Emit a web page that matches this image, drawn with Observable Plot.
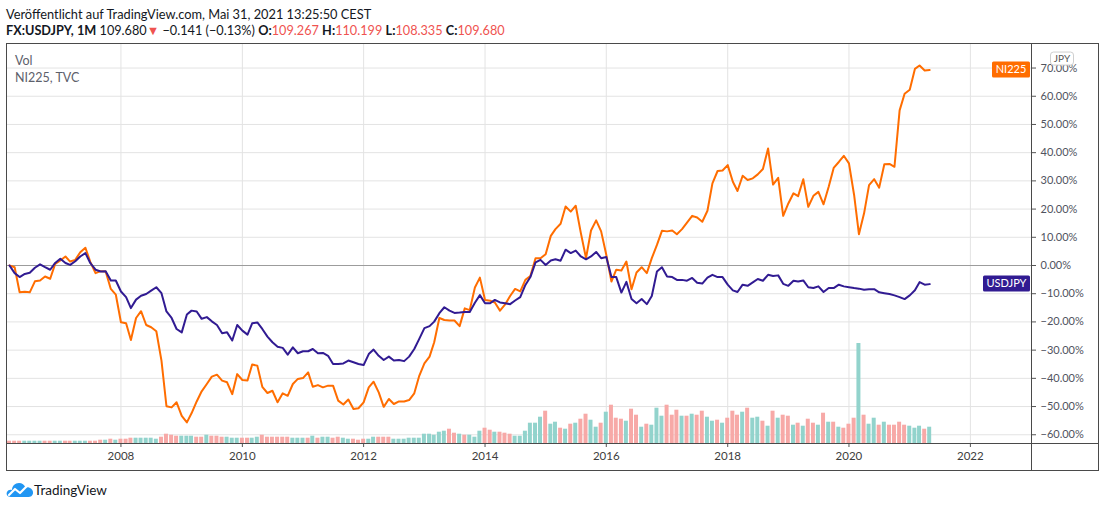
<!DOCTYPE html>
<html>
<head>
<meta charset="utf-8">
<script src="https://cdn.jsdelivr.net/npm/d3@7"></script>
<script src="https://cdn.jsdelivr.net/npm/@observablehq/plot@0.6"></script>
<style>
  html, body { margin: 0; padding: 0; background: #fff; }
  #wrap { position: relative; width: 1100px; height: 508px; overflow: hidden; font-family: Lato, "Open Sans", sans-serif; color: #131722; }
  .t { position: absolute; white-space: nowrap; line-height: 16px; }
  #h1 { left: 6px; top: 6px; font-size: 12.8px; }
  #h2 { left: 6px; top: 22px; font-size: 12.7px; }
  #h2 b { font-weight: 700; }
  .red { color: #ef5350; }
  .leg { left: 15px; font-size: 12.5px; color: #5d606b; }
  #chart { position: absolute; left: 0; top: 43px; }
  #logo { position: absolute; left: 6px; top: 481px; }
  #logotxt { left: 34px; top: 481px; font-size: 13.5px; color: #131722; line-height: 18px; }
</style>
</head>
<body>
<div id="wrap">
  <div class="t" id="h1">Veröffentlicht auf TradingView.com, Mai 31, 2021 13:25:50 CEST</div>
  <div class="t" id="h2"><b>FX:USDJPY, 1M</b> 109.680<span class="red">▼</span> −0.141 (−0.13%) <b>O:</b><span class="red">109.267</span> <b>H:</b><span class="red">110.199</span> <b>L:</b><span class="red">108.335</span> <b>C:</b><span class="red">109.680</span></div>
  <div id="chart"></div>
  <div class="t leg" style="top:53px">Vol</div>
  <div class="t leg" style="top:70px">NI225, TVC</div>
  <svg id="logo" width="28" height="17" viewBox="0 0 28 17">
    <path d="M5 16 C1 16 0 13 1 11 C2 9 4 8.5 6 9 C6 5 9 2 13 2 C16 2 18.5 4 19.5 6.5 C20.5 6 22 6 23 6.5 C26 7.5 27.5 10 27 12.5 C26.5 15 24.5 16 22.5 16 Z" fill="#2196f3"/>
    <polyline points="3,14 9,8 14,12 21,5" fill="none" stroke="#fff" stroke-width="2.2" stroke-linejoin="round" stroke-linecap="round"/>
  </svg>
  <div class="t" id="logotxt">TradingView</div>
</div>
<script>
// ---- data (monthly, starting March 2006), % change vs first bar ----
const startYear = 2006, startMonth = 2; // March 2006
const usdjpy = [0,-2.7,-4.1,-3.0,-2.6,-0.8,0.4,-0.6,-1.5,0.9,2.4,0.9,0.2,1.5,3.2,4.4,0.8,-1.5,-2.1,-2.0,
  -5.3,-5.3,-9.2,-11.2,-15.1,-12.1,-10.7,-10.1,-8.9,-7.7,-9.8,-16.3,-18.6,-22.5,-23.7,-17.4,-16.0,-16.3,-18.9,-18.3,
  -19.8,-21.1,-24.0,-23.7,-26.6,-21.1,-23.1,-24.5,-20.5,-20.2,-22.5,-25.2,-27.2,-28.8,-29.2,-31.6,-29.0,-31.1,-30.4,-30.4,
  -29.6,-31.1,-31.0,-32.0,-34.9,-34.9,-34.7,-33.7,-34.3,-34.9,-35.3,-31.4,-29.8,-32.0,-33.5,-32.3,-33.7,-33.5,-33.9,-32.3,
  -29.6,-26.0,-22.2,-21.5,-19.9,-16.9,-14.8,-16.0,-16.8,-16.7,-16.5,-16.5,-13.2,-10.5,-13.4,-13.4,-12.2,-13.1,-13.4,-13.7,
  -12.4,-11.2,-6.9,-4.1,1.1,2.0,0.2,1.8,2.2,1.7,5.6,4.4,5.3,3.2,2.2,3.2,4.8,2.6,3.0,-4.1,
  -4.1,-9.6,-5.8,-11.9,-13.4,-11.9,-13.7,-10.8,-2.1,-0.6,-3.9,-4.1,-5.1,-5.1,-5.4,-4.4,-6.1,-6.4,-4.3,-3.3,
  -4.1,-4.1,-6.8,-8.8,-9.4,-6.8,-7.2,-6.0,-4.8,-5.4,-3.3,-3.7,-3.5,-6.5,-7.2,-5.4,-5.7,-5.3,-7.7,-8.0,
  -7.4,-9.4,-8.0,-8.0,-6.8,-7.4,-7.7,-8.0,-8.2,-8.6,-8.4,-8.4,-9.5,-9.8,-10.1,-10.6,-11.2,-11.9,-10.6,-8.8,
  -5.9,-6.8,-6.6];
const ni225 = [0,-0.6,-9.5,-9.3,-9.5,-5.6,-5.3,-3.9,-4.7,0.6,1.8,3.2,1.4,2.0,4.7,6.3,1.2,-2.7,-2.0,-2.1,
  -8.3,-10.3,-20.1,-20.5,-26.4,-18.6,-16.2,-21.1,-21.9,-23.3,-33.7,-49.9,-50.3,-48.5,-53.3,-55.6,-52.4,-48.2,-44.6,-42.0,
  -39.4,-38.7,-40.8,-41.4,-45.6,-38.5,-40.6,-40.8,-35.1,-35.5,-43.0,-45.2,-44.4,-48.5,-45.3,-46.2,-42.0,-40.2,-39.9,-37.9,
  -43.0,-42.4,-43.2,-42.6,-42.6,-47.9,-49.3,-47.5,-50.9,-50.6,-48.5,-43.2,-41.2,-45.0,-50.1,-47.3,-49.1,-48.2,-48.2,-47.7,
  -45.3,-39.1,-34.7,-32.3,-27.2,-18.6,-19.3,-19.5,-19.5,-21.5,-15.2,-15.8,-7.8,-4.3,-12.2,-12.5,-13.1,-16.0,-13.9,-10.8,
  -8.3,-9.2,-5.1,-3.7,2.6,2.6,4.0,10.5,12.9,14.8,20.9,19.1,21.2,11.5,2.6,12.4,16.0,12.1,3.8,-5.7,
  -1.5,-1.8,1.4,-8.4,-2.5,-0.6,-2.7,2.6,7.3,12.3,12.1,12.4,11.1,12.9,15.2,17.6,17.0,15.5,19.4,29.1,
  33.5,33.7,35.6,29.7,26.4,31.8,30.3,30.9,32.3,34.2,41.5,28.7,31.1,17.6,22.0,25.6,24.6,30.6,20.8,24.7,
  26.1,21.7,27.9,34.6,36.7,38.9,36.2,25.0,11.1,18.5,28.5,30.6,27.6,35.9,36.0,35.0,55.0,60.9,62.3,69.7,
  70.9,69.1,69.3];
// volume (arbitrary units) and bar direction (1 = up / teal, 0 = down / red)
const volume = [23,23,23,23,23,23,23,23,23,23,23,23,23,23,23,23,23,23,33,33,
  43,33,43,43,53,53,53,53,53,43,63,93,83,73,73,73,73,63,63,83,
  73,73,63,63,53,53,53,53,53,63,83,63,63,63,63,63,53,53,53,53,
  73,53,63,63,53,63,53,43,43,33,43,43,63,63,63,63,43,43,43,53,
  53,53,93,93,83,113,123,143,103,93,83,83,63,123,153,133,113,113,103,93,
  73,73,123,203,203,263,323,193,213,153,143,193,203,243,293,233,163,203,313,383,
  253,243,223,343,283,163,193,183,353,273,383,283,333,273,273,293,283,323,263,223,
  233,203,253,323,283,313,353,253,263,223,173,323,253,283,273,183,203,173,243,203,
  183,303,213,213,163,153,193,253,1000,283,193,253,183,213,183,183,213,183,173,153,
  173,143,163];
const volUp = [0,0,0,1,1,1,1,0,0,1,1,0,0,1,1,1,0,0,0,1,
  0,1,0,0,0,1,1,1,1,1,0,0,0,0,1,1,1,0,0,1,
  0,0,0,1,1,1,0,0,1,1,0,0,0,0,0,0,1,1,1,0,
  1,0,1,1,0,0,1,1,0,0,0,1,1,0,0,0,1,1,1,1,
  1,1,1,1,1,1,1,0,0,1,0,1,1,1,0,0,1,0,0,0,
  1,1,1,1,1,1,0,1,1,0,1,0,1,0,0,1,1,0,1,0,
  0,0,1,0,0,1,0,1,1,1,0,0,0,1,0,1,0,0,1,1,
  0,1,0,0,0,1,0,1,1,0,1,0,1,0,0,1,0,1,0,0,
  1,0,1,0,1,0,0,0,1,0,1,1,0,1,0,0,0,0,1,1,
  1,0,1];
const yearTicks = [2008, 2010, 2012, 2014, 2016, 2018, 2020, 2022];
const pctTicks = [-60, -50, -40, -30, -20, -10, 0, 10, 20, 30, 40, 50, 60, 70];
const seriesNames = ["NI225", "USDJPY"];
const seriesColors = ["#ff6d00", "#311b92"];

// ---- build tables ----
const monthDate = i => new Date(Date.UTC(startYear, startMonth + i, 1));
const DAY = 86400000;
const usdRows = usdjpy.map((v, i) => ({date: monthDate(i), v}));
const niRows = ni225.map((v, i) => ({date: monthDate(i), v}));

const yMin = -63.1, yMax = 78.7;           // visible percent range
const plotH = 400;                          // px height of the price pane
const pxPerPct = plotH / (yMax - yMin);
const volPxPerUnit = 0.1;                   // volume pane: px per volume unit
const volRows = volume.map((v, i) => ({
  x1: new Date(+monthDate(i) - 12 * DAY),
  x2: new Date(+monthDate(i) + 12 * DAY),
  y1: yMin,
  y2: yMin + v * volPxPerUnit / pxPerPct,
  fill: volUp[i] ? "#92d3cc" : "#f7a9a7"
}));
const tickDates = yearTicks.map(y => new Date(Date.UTC(y, 0, 1)));
const pctFmt = d => (d < 0 ? "\u2212" : "") + Math.abs(d).toFixed(2) + "%";

const plot = Plot.plot({
  width: 1100,
  height: 428,
  marginLeft: 7,
  marginRight: 69,
  marginTop: 0,
  marginBottom: 28,
  style: {fontFamily: "Lato, 'Open Sans', sans-serif", fontSize: "11px", background: "transparent", color: "#50535e"},
  x: {type: "utc", domain: [new Date(Date.UTC(2006, 1, 17)), new Date(Date.UTC(2023, 0, 4))]},
  y: {domain: [yMin, yMax]},
  color: {type: "identity"},
  marks: [
    Plot.gridX(tickDates, {stroke: "#e3e3e3", strokeOpacity: 1}),
    Plot.gridY(pctTicks, {stroke: "#e3e3e3", strokeOpacity: 1}),
    Plot.ruleY([0], {stroke: "#9c9c9c", strokeWidth: 1}),
    Plot.rect(volRows, {x1: "x1", x2: "x2", y1: "y1", y2: "y2", fill: "fill"}),
    Plot.line(niRows, {x: "date", y: "v", stroke: seriesColors[0], strokeWidth: 2, strokeLinejoin: "round"}),
    Plot.line(usdRows, {x: "date", y: "v", stroke: seriesColors[1], strokeWidth: 2, strokeLinejoin: "round"}),
    Plot.axisX(tickDates, {anchor: "bottom", tickFormat: d3.utcFormat("%Y"), tickSize: 4, tickPadding: 4, fontSize: 11.5, fill: "#3d3d3d", stroke: "#555"}),
    Plot.axisY(pctTicks, {anchor: "right", tickFormat: pctFmt, tickSize: 4, tickPadding: 5, fontSize: 11, fill: "#50535e", stroke: "#555"})
  ]
});
document.getElementById("chart").appendChild(plot);

// frame, series labels and currency badge drawn with the plot's own scales
const svg = d3.select(plot);
const ys = plot.scale("y");
const left = 7, right = 1031, bottom = 400;
const g = svg.append("g");
g.append("rect").attr("x", left - 0.5).attr("y", 0.5).attr("width", 1098.5 - left + 0.5).attr("height", 427)
  .attr("fill", "none").attr("stroke", "#4a4a4a");
g.append("line").attr("x1", right + 0.5).attr("x2", right + 0.5).attr("y1", 0).attr("y2", 428).attr("stroke", "#4a4a4a");
g.append("line").attr("x1", left).attr("x2", 1099).attr("y1", bottom + 0.5).attr("y2", bottom + 0.5).attr("stroke", "#4a4a4a");

const lastVals = [ni225[ni225.length - 1], usdjpy[usdjpy.length - 1]];
const boxW = [38, 47];
seriesNames.forEach((name, k) => {
  const yy = ys.apply(lastVals[k]);
  g.append("rect").attr("x", right - 1 - boxW[k]).attr("y", yy - 8).attr("width", boxW[k]).attr("height", 16)
    .attr("rx", 1.5).attr("fill", seriesColors[k]);
  g.append("text").attr("x", right - 1 - boxW[k] / 2).attr("y", yy).attr("dy", "0.35em").attr("text-anchor", "middle")
    .attr("fill", "#fff").attr("font-size", 11).text(name);
});
// currency badge over the top of the price scale
const by = ys.apply(70) - 16;
g.append("rect").attr("x", 1050.5).attr("y", by + 0.5).attr("width", 23).attr("height", 13).attr("rx", 3)
  .attr("fill", "#fff").attr("stroke", "#cfcfcf");
g.append("text").attr("x", 1062).attr("y", by + 7).attr("dy", "0.35em").attr("text-anchor", "middle")
  .attr("fill", "#555").attr("font-size", 10).text("JPY");
</script>
</body>
</html>
